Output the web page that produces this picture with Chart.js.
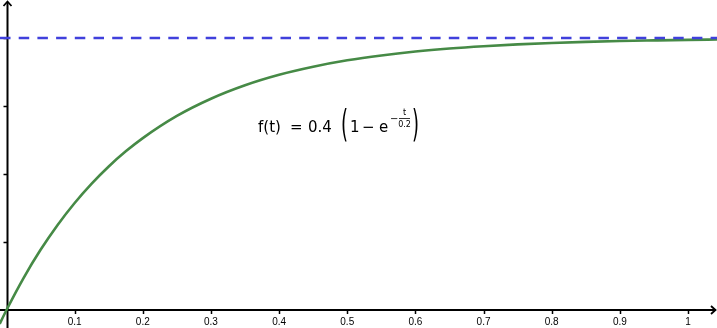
<!DOCTYPE html>
<html>
<head>
<meta charset="utf-8">
<script src="https://cdn.jsdelivr.net/npm/chart.js@4"></script>
<style>
    html, body { margin: 0; padding: 0; background: #fff; }
    #wrap { width: 717px; height: 328px; }
</style>
</head>
<body>
<div id="wrap"><canvas id="chart"></canvas></div>
<script>
// curve samples: f(t) = 0.4 (1 - e^(-t/0.2))
const tValues = [-0.01, 0, 0.025, 0.05, 0.075, 0.1, 0.125, 0.15, 0.175, 0.2, 0.25, 0.3, 0.35, 0.4, 0.45,
    0.5, 0.55, 0.6, 0.65, 0.7, 0.75, 0.8, 0.85, 0.9, 0.95, 1.0, 1.045]
const fValues = [-0.0205, 0, 0.047, 0.0885, 0.1251, 0.1574, 0.1859, 0.2111, 0.2333, 0.2528, 0.2854, 0.3107, 0.3305, 0.3459, 0.3578,
    0.3672, 0.3744, 0.3801, 0.3845, 0.3879, 0.3906, 0.3927, 0.3943, 0.3956, 0.3965, 0.3973, 0.3978]
const asymptote = 0.4
const xTicks = [0.1, 0.2, 0.3, 0.4, 0.5, 0.6, 0.7, 0.8, 0.9, 1]
const xTickLabels = ['0.1', '0.2', '0.3', '0.4', '0.5', '0.6', '0.7', '0.8', '0.9', '1']
const yTicks = [0.1, 0.2, 0.3, 0.4]

const X_MIN = -0.00954, X_MAX = 1.04255
const Y_MIN = -0.0265, Y_MAX = 0.4559

// axes through the origin, drawn like geogebra does
const axesPlugin = {
    id: 'axes',
    beforeDatasetsDraw(chart) {
        const { ctx, scales: { x, y }, chartArea } = chart
        const ox = Math.round(x.getPixelForValue(0)) + 0.5
        const oy = Math.round(y.getPixelForValue(0))
        ctx.save()
        ctx.strokeStyle = '#000'
        ctx.fillStyle = '#000'
        ctx.lineWidth = 2
        ctx.beginPath()
        ctx.moveTo(chartArea.left, oy)
        ctx.lineTo(chartArea.right - 2, oy)
        ctx.moveTo(ox, chartArea.bottom)
        ctx.lineTo(ox, chartArea.top + 2)
        ctx.stroke()
        // arrow heads
        ctx.lineWidth = 1.8
        ctx.beginPath()
        ctx.moveTo(chartArea.right - 6, oy - 4)
        ctx.lineTo(chartArea.right - 1.5, oy)
        ctx.lineTo(chartArea.right - 6, oy + 4)
        ctx.moveTo(ox - 4, chartArea.top + 6)
        ctx.lineTo(ox, chartArea.top + 1.5)
        ctx.lineTo(ox + 4, chartArea.top + 6)
        ctx.stroke()
        // tick marks
        ctx.lineWidth = 1.5
        ctx.beginPath()
        xTicks.forEach(v => {
            const px = Math.round(x.getPixelForValue(v)) + 0.5
            ctx.moveTo(px, oy)
            ctx.lineTo(px, oy + 4)
        })
        yTicks.forEach(v => {
            const py = Math.round(y.getPixelForValue(v)) + 0.5
            ctx.moveTo(ox, py)
            ctx.lineTo(ox - 4, py)
        })
        ctx.stroke()
        ctx.font = '10px "Liberation Sans", Arial, sans-serif'
        ctx.textAlign = 'center'
        ctx.textBaseline = 'middle'
        xTicks.forEach((v, i) => {
            ctx.fillText(xTickLabels[i], x.getPixelForValue(v), oy + 12)
        })
        ctx.restore()
    },
    afterDatasetsDraw(chart) {
        // formula label
        const { ctx } = chart
        ctx.save()
        ctx.fillStyle = '#000'
        ctx.strokeStyle = '#000'
        ctx.textBaseline = 'alphabetic'
        ctx.textAlign = 'left'
        ctx.font = '15px "DejaVu Sans", sans-serif'
        ctx.fillText('f(t)', 258, 132)
        ctx.fillText('=', 290, 132)
        ctx.fillText('0.4', 308, 132)
        ctx.font = '20px "DejaVu Sans", sans-serif'
        ctx.save()
        ctx.translate(341, 136)
        ctx.scale(0.9, 1.85)
        ctx.fillText('(', 0, 0)
        ctx.restore()
        ctx.font = '15px "DejaVu Sans", sans-serif'
        ctx.fillText('1', 350, 132)
        ctx.fillText('\u2212', 362, 132)
        ctx.fillText('e', 379, 132)
        ctx.font = '10px "DejaVu Sans", sans-serif'
        ctx.fillText('\u2212', 390, 122)
        ctx.font = '8px "DejaVu Sans", sans-serif'
        ctx.textAlign = 'center'
        ctx.fillText('t', 404.5, 115)
        ctx.fillText('0.2', 404.5, 127)
        ctx.lineWidth = 0.8
        ctx.beginPath()
        ctx.moveTo(399, 118.5)
        ctx.lineTo(410, 118.5)
        ctx.stroke()
        ctx.textAlign = 'left'
        ctx.font = '20px "DejaVu Sans", sans-serif'
        ctx.save()
        ctx.translate(412, 136)
        ctx.scale(0.9, 1.85)
        ctx.fillText(')', 0, 0)
        ctx.restore()
        ctx.restore()
    }
}

new Chart(document.getElementById('chart'), {
    type: 'line',
    data: {
        datasets: [
            {
                label: 'asymptote',
                data: [{ x: X_MIN, y: asymptote }, { x: X_MAX, y: asymptote }],
                borderColor: 'rgb(64, 64, 220)',
                borderWidth: 2.5,
                borderDash: [10.5, 8.2],
                pointRadius: 0,
                fill: false
            },
            {
                label: 'f',
                data: tValues.map((t, i) => ({ x: t, y: fValues[i] })),
                borderColor: 'rgb(70, 138, 70)',
                borderWidth: 2.6,
                cubicInterpolationMode: 'monotone',
                pointRadius: 0,
                fill: false
            }
        ]
    },
    options: {
        responsive: true,
        maintainAspectRatio: false,
        animation: false,
        layout: { padding: 0 },
        scales: {
            x: { type: 'linear', min: X_MIN, max: X_MAX, display: false },
            y: { type: 'linear', min: Y_MIN, max: Y_MAX, display: false }
        },
        plugins: {
            legend: { display: false },
            tooltip: { enabled: false }
        }
    },
    plugins: [axesPlugin]
})
</script>
</body>
</html>
